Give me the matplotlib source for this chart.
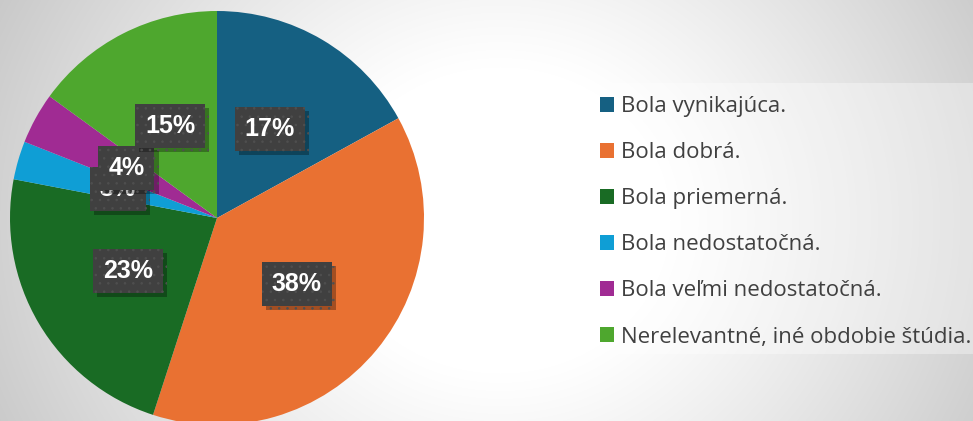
import numpy as np
import matplotlib
matplotlib.use("Agg")
import matplotlib.pyplot as plt
from matplotlib.patches import Rectangle
import matplotlib.patheffects as pe

categories = ["Bola vynikajúca.", "Bola dobrá.", "Bola priemerná.",
              "Bola nedostatočná.", "Bola veľmi nedostatočná.",
              "Nerelevantné, iné obdobie štúdia."]
values = [17, 38, 23, 3, 4, 15]
colors = ["#156082", "#E97132", "#196B24", "#0F9ED5", "#A02B93", "#4EA72E"]

plt.rcParams["hatch.linewidth"] = 0.6

W, H = 973, 421
fig = plt.figure(figsize=(W / 100, H / 100), dpi=100)

# background gradient
bg = fig.add_axes([0, 0, 1, 1], zorder=-10)
yy, xx = np.mgrid[0:H, 0:W]
d = np.hypot((xx - 500) / 1.0, (yy - 220) / 0.9)
t = np.clip((d - 170) / 420, 0, 1)
v = 1 - 0.23 * t ** 1.1
bg.imshow(np.dstack([v, v, v]), extent=[0, W, H, 0], aspect="auto")
bg.add_patch(Rectangle((583, 83), W - 583, 354 - 83, facecolor="white",
                       alpha=0.35, edgecolor="none"))
bg.set_xlim(0, W)
bg.set_ylim(H, 0)
bg.axis("off")

# pie
cx, cy, r = 217, 218, 207
ax = fig.add_axes([(cx - r) / W, (H - cy - r) / H, 2 * r / W, 2 * r / H])
wedges, texts, autotexts = ax.pie(
    values, colors=colors, startangle=90, counterclock=False,
    autopct="%d%%", pctdistance=0.5, radius=1,
    wedgeprops=dict(linewidth=0),
)
ax.set_xlim(-1, 1)
ax.set_ylim(-1, 1)
ax.set_aspect("equal")
ax.axis("off")

for at in autotexts:
    at.set_color("white")
    at.set_fontsize(18)
    at.set_fontweight("bold")
    at.set_fontfamily("Liberation Sans")
    at.set_bbox(dict(boxstyle="square,pad=0.4", facecolor="#404040",
                     edgecolor="#4f4f4f", linewidth=0, hatch=".."))
    at.get_bbox_patch().set_path_effects(
        [pe.SimplePatchShadow(offset=(3, -3), alpha=0.3, shadow_rgbFace="black"),
         pe.Normal()])

# legend
leg = fig.legend(wedges, categories, loc="upper left",
                 bbox_to_anchor=(600 / W, 1 - 96 / H), frameon=False,
                 prop=dict(family="Open Sans", size=16),
                 handlelength=0.65, handleheight=0.65, handletextpad=0.3,
                 labelspacing=1.13, borderpad=0, borderaxespad=0)
for txt in leg.get_texts():
    txt.set_color("#404040")

fig.savefig("out.png", dpi=100)
